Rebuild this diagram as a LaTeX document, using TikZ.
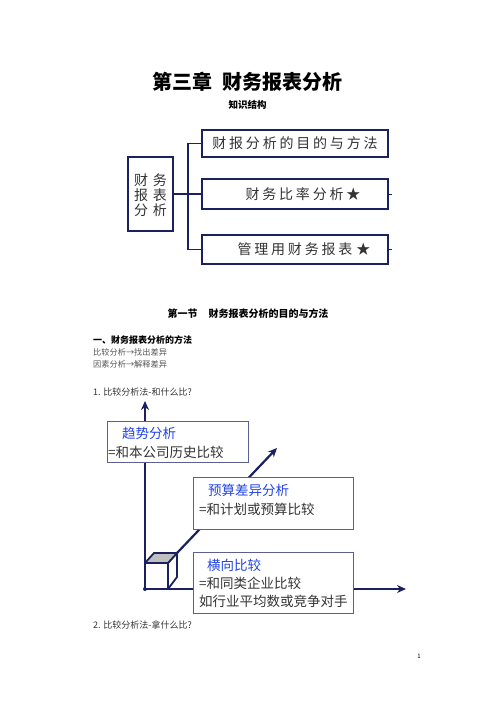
\documentclass[tikz,border=0pt]{standalone}
\usepackage{fontspec}
\setmainfont{Noto Sans CJK SC}
\newfontfamily\cjkls[LetterSpace=20]{Noto Sans CJK SC}
\newfontfamily\cjklsb[LetterSpace=35]{Noto Sans CJK SC}
\usetikzlibrary{arrows.meta}
\definecolor{navy}{HTML}{1B2160}
\definecolor{slate}{HTML}{5C6090}
\definecolor{hblue}{HTML}{2244E8}
\definecolor{txt}{HTML}{333333}
\definecolor{lgray}{HTML}{555555}
\tikzset{
  ksbox/.style={draw=navy,line width=1.3pt,fill=white,inner sep=0pt},
  axis/.style={draw=navy,line width=2.2pt,-{Stealth[length=9pt,width=8pt]}},
  cmpbox/.style={draw=slate,line width=0.9pt,fill=white,inner sep=0pt},
  head/.style={anchor=west,text=hblue,font=\fontsize{13.5}{14}\selectfont,inner sep=0pt},
  body/.style={anchor=west,text=txt,font=\fontsize{13.5}{14}\selectfont,inner sep=0pt},
  small/.style={anchor=west,inner sep=0pt}
}
\begin{document}
\begin{tikzpicture}[x=1pt,y=-1pt]
\useasboundingbox (0,0) rectangle (496,702);
% titles
\node[inner sep=0pt,font=\fontsize{20}{22}\selectfont\bfseries] (title) at (247.5,82) {第三章\hspace{10pt}财务报表分析};
\node[inner sep=0pt,font=\fontsize{9.5}{10}\selectfont\bfseries] (sub) at (247.5,105) {知识结构};
% knowledge structure
\node[ksbox,minimum width=45pt,minimum height=74pt] (L) at (150.5,194) {};
\node[inner sep=0pt,align=center,text=txt,font=\fontsize{14}{15}\cjklsb] (Lt) at (150.5,195) {财务\\报表\\分析};
\node[ksbox,minimum width=186pt,minimum height=27pt] (B1) at (295,143.5) {};
\node[ksbox,minimum width=186pt,minimum height=30pt] (B2) at (295,194) {};
\node[ksbox,minimum width=186pt,minimum height=29pt] (B3) at (295,249.5) {};
\node[inner sep=0pt,text=txt,font=\fontsize{14}{15}\cjkls] (B1t) at (295,143.5) {财报分析的目的与方法};
\node[inner sep=0pt,text=txt,font=\fontsize{14}{15}\cjkls] (B2t) at (303,194) {财务比率分析★};
\node[inner sep=0pt,text=txt,font=\fontsize{14}{15}\cjkls] (B3t) at (304,249.5) {管理用财务报表\hspace{4pt}★};
\coordinate (J) at (188,194);
\draw[navy,line width=1.3pt] (L.east) -- (B2.west);
\draw[navy,line width=1.3pt] (J) |- (B1.west);
\draw[navy,line width=1.3pt] (J) |- (B3.west);
\draw[navy,line width=1pt] (B2.east) -- ++(3.5,0);
\draw[navy,line width=1pt] (B3.east) -- ++(3.5,0);
% section texts
\node[inner sep=0pt,font=\fontsize{10}{11}\selectfont\bfseries] (sec) at (248,314) {第一节\hspace{11pt}财务报表分析的目的与方法};
\node[small,font=\fontsize{9}{10}\selectfont\bfseries] (h1) at (93,340) {一、财务报表分析的方法};
\node[small,text=lgray,font=\fontsize{8.2}{9}\selectfont] (l1) at (93,352) {比较分析→找出差异};
\node[small,text=lgray,font=\fontsize{8.2}{9}\selectfont] (l2) at (93,364) {因素分析→解释差异};
\node[small,text=txt,font=\fontsize{9}{10}\selectfont] (q1) at (93,392) {1. 比较分析法-和什么比?};
\node[small,text=txt,font=\fontsize{9}{10}\selectfont] (q2) at (93,625) {2. 比较分析法-拿什么比?};
\node[inner sep=0pt,font=\fontsize{6}{7}\selectfont] (pg) at (419,656) {1};
% axes
\coordinate (O) at (145,589);
\coordinate (Ytip) at (145,401);
\coordinate (Xtip) at (406,589);
\coordinate (Dst) at (177,553);
\coordinate (Dtip) at (277,448);
\draw[axis] (O) -- (Ytip);
\draw[axis] (O) -- (Xtip);
\draw[axis] (Dst) -- (Dtip);
\fill[navy] (O) circle (2pt);
% cube
\filldraw[draw=navy,fill=white,line width=1.8pt,line join=round] (145,563) rectangle (168,589);
\filldraw[draw=navy,fill=white,line width=1.8pt,line join=round] (168,563) -- (177,553) -- (177,577) -- (168,589) -- cycle;
\filldraw[draw=navy,fill=black!25,line width=1.8pt,line join=round] (145,563) -- (154,553) -- (177,553) -- (168,563) -- cycle;
% comparison boxes
\node[cmpbox,minimum width=141pt,minimum height=41pt] (T) at (177.5,441.5) {};
\node[head] (Th) at (122,433) {趋势分析};
\node[body] (Tb) at (108,452) {=和本公司历史比较};
\node[cmpbox,minimum width=160pt,minimum height=52pt] (Bu) at (273,503) {};
\node[head] (Buh) at (208,490) {预算差异分析};
\node[body] (Bub) at (199,509) {=和计划或预算比较};
\node[cmpbox,minimum width=160pt,minimum height=61pt] (H) at (273,582.5) {};
\node[head] (Hh) at (207,565) {横向比较};
\node[body] (Hb1) at (199,583) {=和同类企业比较};
\node[body] (Hb2) at (199,601) {如行业平均数或竞争对手};
\end{tikzpicture}
\end{document}
